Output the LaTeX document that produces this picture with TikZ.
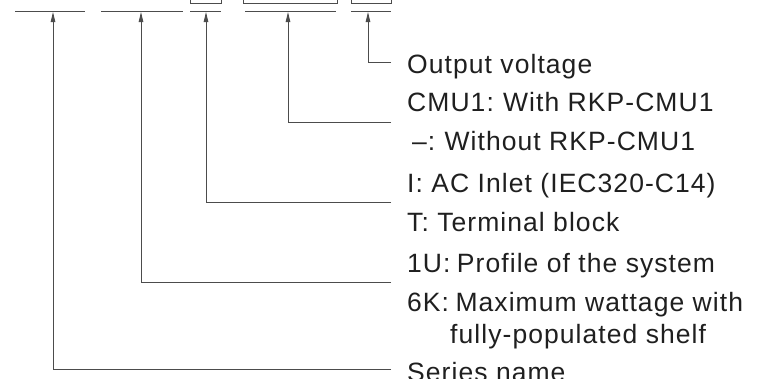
\documentclass[tikz,border=0pt]{standalone}
\usepackage{fontspec}
\setmainfont{Liberation Sans}[LetterSpace=4]
\usetikzlibrary{arrows.meta}
\begin{document}
\begin{tikzpicture}[x=1pt,y=-1pt,
  rule/.style={draw=black!70, line width=0.9pt},
  conn/.style={draw=black!70, line width=0.9pt, -{Triangle[length=10pt,width=4.5pt]}},
  lbl/.style={anchor=base west, inner sep=0pt, font=\fontsize{26.5}{30}\selectfont, text=black!88}]
\useasboundingbox (0,0) rectangle (769,378);
\clip (0,0) rectangle (769,378);
% field underlines
\draw[rule] (15,11) -- (85,11);
\draw[rule] (101,11) -- (183,11);
\draw[rule] (190,11) -- (221,11);
\draw[rule] (245,11) -- (336,11);
\draw[rule] (351,11) -- (391,11);
% boxes of the fields (cut at the top)
\draw[rule] (190,-5) rectangle (221,3);
\draw[rule] (243,-5) rectangle (337,3);
\draw[rule] (351,-5) rectangle (391,3);
% arrow tips
\coordinate (t1) at (53,12);
\coordinate (t2) at (141,12);
\coordinate (t3) at (206,12);
\coordinate (t4) at (288,12);
\coordinate (t5) at (368,12);
% connector ends
\coordinate (e1) at (391,369);
\coordinate (e2) at (391,282);
\coordinate (e3) at (391,202);
\coordinate (e4) at (391,122);
\coordinate (e5) at (391,62);
\draw[conn] (e1) -| (t1);
\draw[conn] (e2) -| (t2);
\draw[conn] (e3) -| (t3);
\draw[conn] (e4) -| (t4);
\draw[conn] (e5) -| (t5);
% labels
\node[lbl] (lout) at (407,73) {Output voltage};
\node[lbl] (lcmu) at (407,111) {CMU1:\hspace{-2pt} With RKP-CMU1};
\node[lbl] (lnone) at (412,150) {–:\hspace{-2pt} Without RKP-CMU1};
\node[lbl] (linlet) at (407,192) {I: AC Inlet (IEC320-C14)};
\node[lbl] (lterm) at (407,231) {T: Terminal block};
\node[lbl] (lprof) at (407,272) {1U:\hspace{-2pt} Profile of the system};
\node[lbl] (lwatt) at (407,311) {6K:\hspace{-2pt} Maximum wattage with};
\node[lbl] (lwatt2) at (450,343) {fully-populated shelf};
\node[lbl] (lser) at (407,381) {Series name};
\end{tikzpicture}
\end{document}
